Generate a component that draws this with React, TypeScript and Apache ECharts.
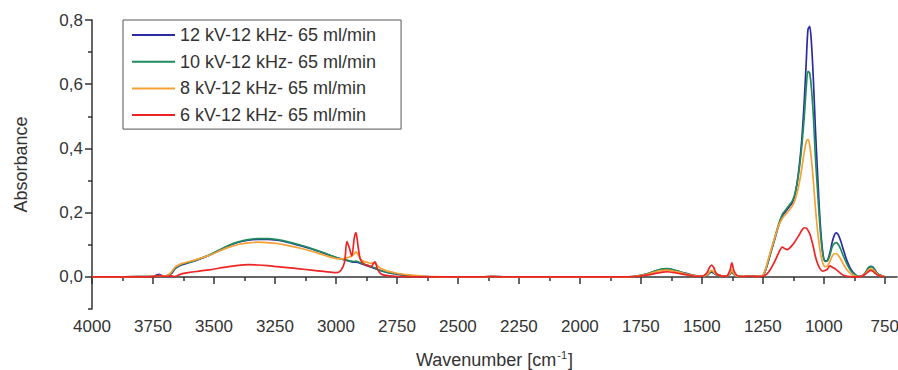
import React, { useEffect, useRef } from "react";
import * as echarts from "echarts";

const wavenumbers = [
  4000, 3900, 3800, 3750, 3735, 3725, 3715, 3700, 3690, 3675, 3660, 3645, 3630, 3600,
  3560, 3520, 3480, 3440, 3400, 3360, 3320, 3280, 3240, 3200, 3150, 3100, 3050, 3000,
  2980, 2965, 2955, 2945, 2935, 2925, 2918, 2910, 2900, 2885, 2870, 2855, 2848, 2840,
  2830, 2815, 2790, 2760, 2730, 2700, 2670, 2640, 2600, 2500, 2400, 2360, 2340, 2300,
  2200, 2000, 1800, 1760, 1720, 1690, 1660, 1640, 1620, 1590, 1560, 1530, 1500, 1480,
  1468, 1460, 1452, 1440, 1420, 1400, 1385, 1377, 1369, 1355, 1330, 1300, 1270, 1250,
  1235, 1220, 1200, 1185, 1170, 1160, 1150, 1140, 1130, 1120, 1110, 1100, 1090, 1080,
  1072, 1065, 1058, 1050, 1042, 1035, 1025, 1015, 1005, 995, 985, 975, 965, 955,
  948, 940, 930, 920, 905, 890, 875, 860, 845, 830, 818, 808, 800, 792,
  780, 765, 752,
];

const kv12 = [
  0, 0, 0.001, 0.002, 0.006, 0.008, 0.004, 0.003, 0.004, 0.01, 0.025, 0.033, 0.038, 0.045,
  0.055, 0.067, 0.082, 0.097, 0.108, 0.114, 0.117, 0.117, 0.114, 0.108, 0.098, 0.087, 0.074, 0.06,
  0.056, 0.053, 0.051, 0.049, 0.047, 0.046, 0.046, 0.045, 0.042, 0.038, 0.034, 0.03, 0.028, 0.026,
  0.023, 0.019, 0.014, 0.01, 0.006, 0.004, 0.002, 0.001, 0, 0, 0, 0.002, 0.001, 0,
  0, 0, 0, 0.003, 0.01, 0.018, 0.024, 0.025, 0.022, 0.016, 0.01, 0.004, 0.002, 0.004,
  0.012, 0.015, 0.012, 0.006, 0.003, 0.002, 0.008, 0.016, 0.008, 0.002, 0.001, 0.002, 0.001, 0.004,
  0.03, 0.07, 0.12, 0.16, 0.19, 0.2, 0.21, 0.22, 0.23, 0.25, 0.29, 0.35, 0.43, 0.55,
  0.67, 0.77, 0.78, 0.72, 0.6, 0.47, 0.31, 0.17, 0.08, 0.05, 0.052, 0.075, 0.11, 0.133,
  0.137, 0.13, 0.11, 0.085, 0.05, 0.025, 0.01, 0.002, 0.002, 0.012, 0.027, 0.033, 0.031, 0.024,
  0.01, 0.004, 0.001,
];

const kv10 = [
  0, 0, 0.001, 0.002, 0.004, 0.005, 0.003, 0.003, 0.004, 0.012, 0.027, 0.035, 0.04, 0.046,
  0.056, 0.068, 0.083, 0.098, 0.109, 0.116, 0.119, 0.119, 0.116, 0.11, 0.1, 0.088, 0.075, 0.061,
  0.057, 0.054, 0.052, 0.05, 0.049, 0.048, 0.049, 0.047, 0.044, 0.04, 0.036, 0.032, 0.03, 0.028,
  0.024, 0.02, 0.015, 0.011, 0.007, 0.004, 0.002, 0.001, 0, 0, 0, 0.001, 0.001, 0,
  0, 0, 0, 0.003, 0.01, 0.019, 0.025, 0.026, 0.023, 0.016, 0.009, 0.004, 0.002, 0.005,
  0.014, 0.018, 0.014, 0.007, 0.003, 0.002, 0.009, 0.019, 0.009, 0.002, 0.001, 0.002, 0.001, 0.004,
  0.03, 0.07, 0.125, 0.165, 0.195, 0.205, 0.215, 0.225, 0.235, 0.255, 0.29, 0.34, 0.41, 0.5,
  0.59, 0.64, 0.635, 0.58, 0.49, 0.38, 0.26, 0.15, 0.075, 0.048, 0.05, 0.068, 0.095, 0.105,
  0.107, 0.1, 0.085, 0.065, 0.04, 0.02, 0.008, 0.002, 0.002, 0.013, 0.028, 0.032, 0.03, 0.023,
  0.01, 0.004, 0.001,
];

const kv8 = [
  0, 0, 0.001, 0.002, 0.003, 0.004, 0.003, 0.003, 0.005, 0.015, 0.03, 0.037, 0.042, 0.048,
  0.057, 0.067, 0.08, 0.092, 0.101, 0.106, 0.108, 0.107, 0.104, 0.098, 0.09, 0.08, 0.068, 0.057,
  0.056, 0.057, 0.06, 0.062, 0.065, 0.072, 0.078, 0.07, 0.056, 0.048, 0.045, 0.042, 0.044, 0.044,
  0.035, 0.026, 0.018, 0.013, 0.009, 0.006, 0.004, 0.002, 0.001, 0, 0, 0.002, 0.001, 0,
  0, 0, 0, 0.003, 0.009, 0.016, 0.02, 0.021, 0.019, 0.014, 0.008, 0.004, 0.002, 0.006,
  0.016, 0.02, 0.016, 0.008, 0.003, 0.002, 0.01, 0.022, 0.01, 0.002, 0.001, 0.002, 0.001, 0.005,
  0.035, 0.075, 0.125, 0.16, 0.182, 0.192, 0.2, 0.21, 0.22, 0.235, 0.26, 0.295, 0.34, 0.39,
  0.42, 0.428, 0.41, 0.36, 0.29, 0.22, 0.14, 0.08, 0.045, 0.032, 0.034, 0.048, 0.066, 0.072,
  0.072, 0.066, 0.055, 0.04, 0.022, 0.01, 0.004, 0.001, 0.002, 0.01, 0.021, 0.025, 0.023, 0.018,
  0.008, 0.003, 0.001,
];

const kv6 = [
  0, 0, 0, 0.001, 0.003, 0.004, 0.003, 0.002, 0.002, 0.003, 0.001, 0.006, 0.01, 0.014,
  0.018, 0.022, 0.027, 0.032, 0.036, 0.038, 0.037, 0.035, 0.032, 0.029, 0.025, 0.021, 0.017, 0.013,
  0.02, 0.045, 0.11, 0.09, 0.065, 0.12, 0.138, 0.1, 0.055, 0.04, 0.036, 0.032, 0.04, 0.047,
  0.025, 0.009, 0.004, 0.002, 0.001, 0.001, 0, 0, 0, 0, 0, 0.001, 0, 0,
  0, 0, 0, 0.002, 0.006, 0.011, 0.015, 0.016, 0.014, 0.01, 0.006, 0.002, 0.002, 0.012,
  0.03, 0.037, 0.03, 0.01, 0.003, 0.002, 0.02, 0.044, 0.02, 0.004, 0.001, 0.002, 0.001, 0.002,
  0.008, 0.022, 0.05, 0.075, 0.093, 0.088, 0.085, 0.09, 0.098, 0.108, 0.12, 0.132, 0.145, 0.153,
  0.152, 0.145, 0.135, 0.115, 0.09, 0.065, 0.04, 0.025, 0.018, 0.02, 0.024, 0.034, 0.03, 0.026,
  0.022, 0.017, 0.01, 0.005, 0.002, 0.001, 0, 0, 0.002, 0.008, 0.016, 0.02, 0.018, 0.013,
  0.006, 0.002, 0,
];

const seriesNames = [
  "12 kV-12 kHz- 65 ml/min",
  "10 kV-12 kHz- 65 ml/min",
  "8 kV-12 kHz- 65 ml/min",
  "6 kV-12 kHz- 65 ml/min",
];
const seriesValues = [kv12, kv10, kv8, kv6];
const seriesColors = ["#2b2ba3", "#1e8c5c", "#f7a035", "#ee2424"];

const xMajorTicks = [750, 1000, 1250, 1500, 1750, 2000, 2250, 2500, 2750, 3000, 3250, 3500, 3750, 4000];
const xMinorTicks = [875, 1125, 1375, 1625, 1875, 2125, 2375, 2625, 2875, 3125, 3375, 3625, 3875];
const yMajorTicks = [0, 0.2, 0.4, 0.6, 0.8];
const yMinorTicks = [-0.1, 0.1, 0.3, 0.5, 0.7];

const FONT = "'Liberation Sans', Arial, sans-serif";
const TEXT = "#333333";
const AXIS = "#333333";

export default function App() {
  const ref = useRef<HTMLDivElement>(null);
  useEffect(() => {
    if (!ref.current) return;
    const chart = echarts.init(ref.current, undefined, { renderer: "svg" });
    const option: any = {
      animation: false,
      backgroundColor: "#ffffff",
      textStyle: { fontFamily: FONT },
      grid: { left: 92, right: 1, top: 20, bottom: 61, outerBoundsMode: "none" },
      legend: {
        orient: "vertical",
        left: 123,
        top: 20,
        padding: [4, 25, 3, 9],
        icon: "rect",
        itemWidth: 43,
        itemHeight: 2,
        itemGap: 4.7,
        borderColor: "#555555",
        borderWidth: 1,
        textStyle: { fontSize: 18, color: TEXT, fontFamily: FONT, lineHeight: 22 },
        data: seriesNames,
      },
      xAxis: [
        {
          type: "value",
          inverse: true,
          min: 700,
          max: 4000,
          name: "Wavenumber [cm{sup|-1}]",
          nameLocation: "middle",
          nameGap: 40,
          nameTextStyle: {
            fontSize: 18,
            color: TEXT,
            fontFamily: FONT,
            rich: { sup: { fontSize: 11, color: TEXT, fontFamily: FONT, verticalAlign: "top", padding: [0, 1, 10, 1] } },
          },
          axisLine: { show: true, lineStyle: { color: AXIS, width: 1.5 } },
          axisTick: { show: true, length: 7, lineStyle: { color: AXIS, width: 1.5 }, customValues: xMajorTicks },
          axisLabel: {
            fontSize: 17,
            color: TEXT,
            fontFamily: FONT,
            margin: 9,
            customValues: xMajorTicks,
            formatter: (v: number) => String(v),
          },
          splitLine: { show: false },
        },
        {
          type: "value",
          inverse: true,
          min: 700,
          max: 4000,
          position: "bottom",
          axisLine: { show: false },
          axisTick: { show: true, length: 4, lineStyle: { color: AXIS, width: 1.5 }, customValues: xMinorTicks },
          axisLabel: { show: false },
          splitLine: { show: false },
        },
      ],
      yAxis: [
        {
          type: "value",
          min: -0.1,
          max: 0.8,
          position: "left",
          name: "Absorbance",
          nameLocation: "middle",
          nameGap: 62,
          nameTextStyle: { fontSize: 18, color: TEXT, fontFamily: FONT },
          axisLine: { show: true, lineStyle: { color: AXIS, width: 1.5 } },
          axisTick: { show: true, length: 7, lineStyle: { color: AXIS, width: 1.5 }, customValues: yMajorTicks },
          axisLabel: {
            fontSize: 17,
            color: TEXT,
            fontFamily: FONT,
            margin: 9,
            customValues: yMajorTicks,
            formatter: (v: number) => v.toFixed(1).replace(".", ","),
          },
          splitLine: { show: false },
        },
        {
          type: "value",
          min: -0.1,
          max: 0.8,
          position: "left",
          offset: 0,
          axisLine: { show: false },
          axisTick: { show: true, length: 4, lineStyle: { color: AXIS, width: 1.5 }, customValues: yMinorTicks },
          axisLabel: { show: false },
          splitLine: { show: false },
        },
      ],
      series: seriesNames.map((name, i) => ({
        name,
        type: "line",
        xAxisIndex: 0,
        yAxisIndex: 0,
        showSymbol: false,
        symbol: "none",
        smooth: 0.3,
        color: seriesColors[i],
        lineStyle: { color: seriesColors[i], width: 1.7 },
        data: wavenumbers.map((w, j) => [w, seriesValues[i][j]]),
      })),
    };
    chart.setOption(option);
    return () => chart.dispose();
  }, []);
  return (
    <div style={{ position: "fixed", left: 0, top: 0, width: 898, height: 370, background: "#fff" }}>
      <div ref={ref} style={{ width: 898, height: 370 }} />
    </div>
  );
}
